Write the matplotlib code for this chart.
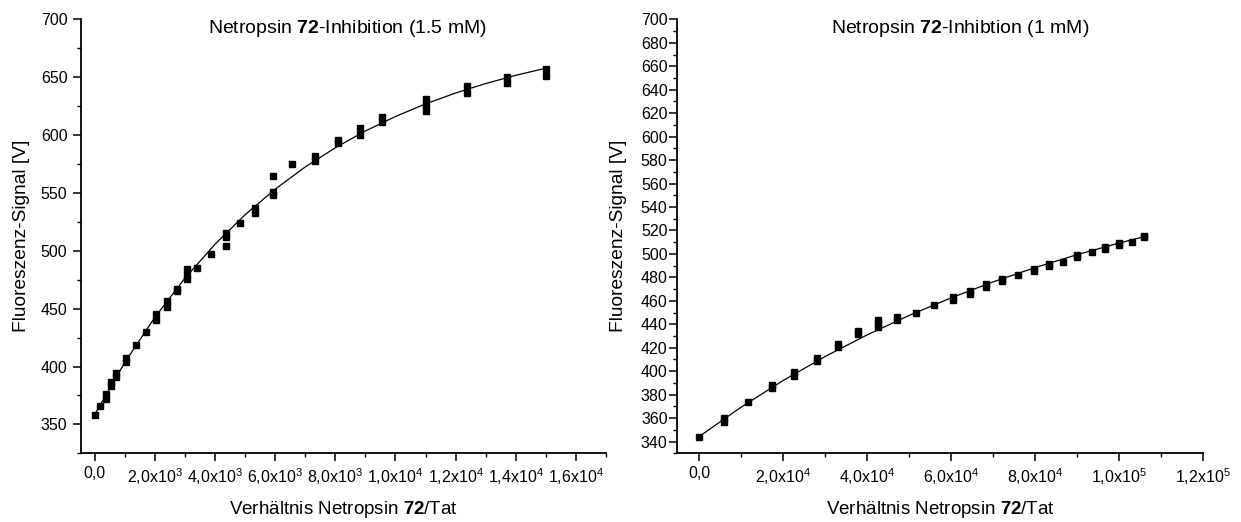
import matplotlib
matplotlib.use("Agg")
import matplotlib.pyplot as plt
from matplotlib.ticker import MultipleLocator

plt.rcParams['font.family'] = ['Liberation Sans', 'DejaVu Sans']
plt.rcParams['mathtext.fontset'] = 'custom'
plt.rcParams['mathtext.rm'] = 'Liberation Sans'
plt.rcParams['mathtext.bf'] = 'Liberation Sans:bold'
plt.rcParams['mathtext.it'] = 'Liberation Sans:italic'

# ---------------- Left panel: 1.5 mM ----------------
left_x = [10, 176, 365, 365, 531, 531, 708, 708, 1040, 1040, 1383, 1716,
          2048, 2048, 2393, 2393, 2726, 2726, 3058, 3058, 3058, 3391, 3866,
          4355, 4355, 4355, 4830, 5329, 5329, 5937, 5937, 5937, 6569,
          7324, 7324, 8078, 8078, 8820, 8820, 9551, 9551,
          11004, 11004, 11004, 12387, 12387, 13697, 13697, 15003, 15003]
left_y = [358, 366, 372, 376, 383, 387, 391, 394, 404, 407, 419, 430,
          440, 445, 451, 457, 465, 467, 476, 479, 484, 485, 497,
          504, 512, 515, 524, 533, 537, 548, 551, 565, 575,
          578, 582, 593, 596, 600, 606, 611, 616,
          621, 626, 631, 636, 642, 645, 650, 651, 657]
left_fit_x = [0, 1000, 2000, 3000, 4000, 5000, 6000, 7000, 8000, 9000,
              10000, 11000, 12000, 13000, 14000, 15000]
left_fit_y = [358.5, 403.4, 442.4, 476.3, 505.6, 531.1, 553.2, 572.4, 589.0,
              603.5, 616.0, 626.9, 636.3, 644.5, 651.6, 657.8]
left_xticks = [0, 2000, 4000, 6000, 8000, 10000, 12000, 14000, 16000]
left_xticklabels = ["0,0", r"2,0x10$^{3}$", r"4,0x10$^{3}$", r"6,0x10$^{3}$",
                    r"8,0x10$^{3}$", r"1,0x10$^{4}$", r"1,2x10$^{4}$",
                    r"1,4x10$^{4}$", r"1,6x10$^{4}$"]
left_yticks = [350, 400, 450, 500, 550, 600, 650, 700]
left_title = r"Netropsin $\mathbf{72}$-Inhibition (1.5 mM)"

# ---------------- Right panel: 1 mM ----------------
right_x = [0, 5880, 5880, 11520, 17230, 17230, 22620, 22620, 27950, 27950,
           32950, 32950, 37860, 37860, 42480, 42480, 42480, 47070, 47070,
           51600, 55950, 60330, 60330, 64450, 64450, 68260, 68260,
           72140, 72140, 75950, 79690, 79690, 83190, 83190, 86670,
           90000, 90000, 93430, 96600, 96600, 99850, 99850, 102950,
           105950, 105950]
right_y = [344, 357, 360, 373.6, 386, 388, 396, 399, 409, 411,
           421, 423, 432, 434, 438, 441, 444, 444, 446.5,
           450, 456.5, 461, 463, 466, 468, 472, 474.5,
           477, 479, 482, 485.5, 487, 490, 491.5, 493.5,
           497, 499, 501.5, 504.5, 506, 508, 509.5, 510.5,
           514, 515.5]
right_fit_x = [0, 10000, 20000, 30000, 40000, 50000, 60000, 70000, 80000,
               90000, 100000, 106000]
right_fit_y = [344.3, 369.4, 392.1, 412.6, 431.0, 447.6, 462.6, 476.2, 488.4,
               499.4, 509.3, 514.8]
right_xticks = [0, 20000, 40000, 60000, 80000, 100000, 120000]
right_xticklabels = ["0,0", r"2,0x10$^{4}$", r"4,0x10$^{4}$", r"6,0x10$^{4}$",
                     r"8,0x10$^{4}$", r"1,0x10$^{5}$", r"1,2x10$^{5}$"]
right_yticks = list(range(340, 701, 20))
right_title = r"Netropsin $\mathbf{72}$-Inhibtion (1 mM)"

xlabel_text = r"Verhältnis Netropsin $\mathbf{72}$/Tat"
ylabel_text = "Fluoreszenz-Signal [V]"

fig = plt.figure(figsize=(12.41, 5.22), dpi=100)
ax1 = fig.add_axes([0.0650, 0.1316, 0.4233, 0.8314])
ax2 = fig.add_axes([0.5458, 0.1316, 0.4239, 0.8314])


def style(ax, ypad):
    for s in ("top", "right"):
        ax.spines[s].set_visible(False)
    for s in ("left", "bottom"):
        ax.spines[s].set_linewidth(1.3)
    ax.tick_params(which="major", direction="out", length=5.5, width=1.1,
                   labelsize=11.5)
    ax.tick_params(which="minor", direction="out", length=3, width=1.0)
    ax.tick_params(axis="y", which="major", pad=ypad)


# Left
ax1.plot(left_fit_x, left_fit_y, color="black", lw=0.9, zorder=2)
ax1.plot(left_x, left_y, "s", color="black", markersize=4.2, zorder=3)
ax1.set_xlim(-465, 17000)
ax1.set_ylim(325, 700)
ax1.set_xticks(left_xticks)
ax1.set_xticklabels(left_xticklabels)
ax1.set_yticks(left_yticks)
ax1.xaxis.set_minor_locator(MultipleLocator(1000))
ax1.yaxis.set_minor_locator(MultipleLocator(25))
style(ax1, 4.0)
ax1.set_xlabel(xlabel_text, fontsize=13.5)
ax1.set_ylabel(ylabel_text, fontsize=13.8)
ax1.xaxis.set_label_coords(0.5, -0.105)
ax1.yaxis.set_label_coords(-0.097, 0.5)
ax1.text(0.507, 0.968, left_title, transform=ax1.transAxes, ha="center",
         va="baseline", fontsize=14)

# Right
ax2.plot(right_fit_x, right_fit_y, color="black", lw=0.9, zorder=2)
ax2.plot(right_x, right_y, "s", color="black", markersize=4.2, zorder=3)
ax2.set_xlim(-5200, 120000)
ax2.set_ylim(330, 700)
ax2.set_xticks(right_xticks)
ax2.set_xticklabels(right_xticklabels)
ax2.set_yticks(right_yticks)
ax2.xaxis.set_minor_locator(MultipleLocator(10000))
ax2.yaxis.set_minor_locator(MultipleLocator(10))
style(ax2, 1.5)
ax2.set_xlabel(xlabel_text, fontsize=13.5)
ax2.set_ylabel(ylabel_text, fontsize=13.8)
ax2.xaxis.set_label_coords(0.5, -0.105)
ax2.yaxis.set_label_coords(-0.096, 0.5)
ax2.text(0.5375, 0.968, right_title, transform=ax2.transAxes, ha="center",
         va="baseline", fontsize=14)

fig.savefig("out.png", dpi=100)
